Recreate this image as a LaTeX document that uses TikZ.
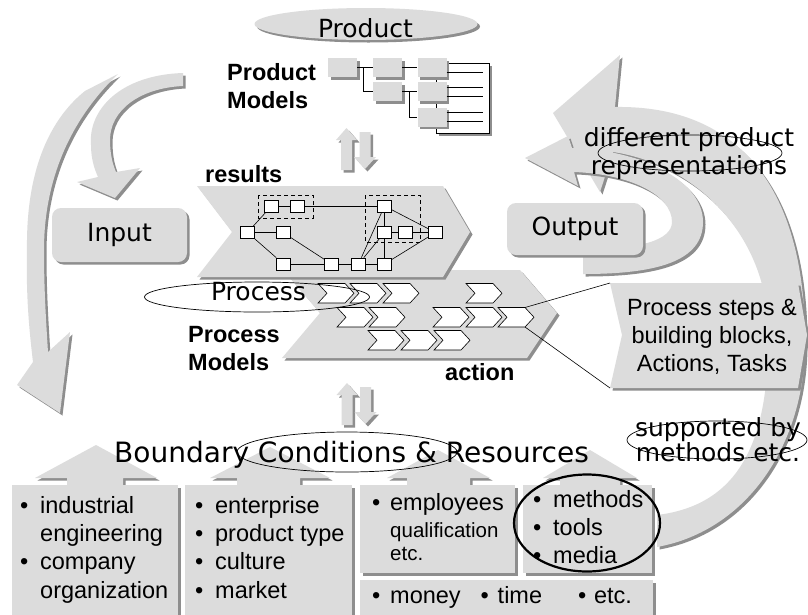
\documentclass[tikz,border=0pt]{standalone}
\usepackage{fontspec}
\setmainfont{Liberation Sans}
\newfontfamily\verd{DejaVu Sans}
\usetikzlibrary{shapes.geometric,shadows}
\definecolor{panel}{HTML}{DCDCDC}
\definecolor{shadowgray}{HTML}{8E8E8E}
% small white chevron step, top-left corner at (#1,#2)
\newcommand\chevat[2]{\path[chev] (#1,#2) -- ++(27,0) -- ++(9,9.75) -- ++(-9,9.75) -- ++(-27,0) -- ++(9,-9.75) -- cycle;}
% pair of opposed exchange arrows, up-arrow tip at (#1,#2)
\newcommand\exchangeat[2]{%
  \path[panelshape] (#1,#2) -- ++(10.5,12) -- ++(-5,0) -- ++(0,30) -- ++(-11,0) -- ++(0,-30) -- ++(-5,0) -- cycle;
  \path[panelshape] (#1,#2) ++(18.5,41) -- ++(11,-12) -- ++(-5.5,0) -- ++(0,-25) -- ++(-11,0) -- ++(0,25) -- ++(-5.5,0) -- cycle;}
\begin{document}
\begin{tikzpicture}[x=1pt,y=-1pt,
  sh/.style={drop shadow={shadow xshift=2.5pt,shadow yshift=-2.5pt,fill=shadowgray,opacity=1}},
  panelshape/.style={fill=panel,draw=none,sh},
  vlabel/.style={font=\verd\fontsize{25}{28}\selectfont,inner sep=0pt},
  blabel/.style={font=\bfseries\fontsize{23.5}{28}\selectfont,inner sep=0pt},
  alabel/.style={font=\fontsize{23.5}{28.3}\selectfont,inner sep=0pt},
  netbox/.style={draw,fill=white,minimum width=14pt,minimum height=12pt,inner sep=0pt,line width=0.7pt},
  treebox/.style={fill=panel,minimum width=29pt,minimum height=19pt,inner sep=0pt,sh},
  chev/.style={draw,fill=white,line width=0.6pt},
  thinline/.style={line width=0.6pt},
  ring/.style={draw,ellipse,inner sep=0pt,line width=0.7pt},
  rbox/.style={panelshape,rounded corners=9pt,inner sep=0pt,font=\verd\fontsize{25}{28}\selectfont},
]
\path[use as bounding box,fill=white] (0,0) rectangle (808,614);

% ---- big curved arrows (left) ----
\path[panelshape] (85,91) -- (118,74)
  .. controls (70,120) and (44,180) .. (44,250)
  .. controls (44,290) and (46,320) .. (48,352)
  -- (70,332) -- (60,413) -- (17,385) -- (33,362)
  .. controls (28,320) and (26,290) .. (27,240)
  .. controls (28,160) and (55,115) .. (85,91) -- cycle;
\path[panelshape] (183,73) -- (183,86)
  .. controls (140,88) and (110,110) .. (110,140)
  .. controls (110,155) and (113,165) .. (116,172)
  -- (140,168) -- (115,198) -- (77,182) -- (98,177)
  .. controls (95,170) and (91,160) .. (91,145)
  .. controls (88,110) and (120,75) .. (183,73) -- cycle;

% ---- big curved arrows (right) ----
\path[panelshape] (615,107) -- (620,55) -- (553,113) -- (600,192) -- (613,152)
  .. controls (700,165) and (768,240) .. (768,330)
  .. controls (770,440) and (740,505) .. (657,515)
  -- (657,547)
  .. controls (750,530) and (806,440) .. (805,340)
  .. controls (805,190) and (740,105) .. (615,107) -- cycle;
\path[panelshape] (525,158) -- (568,136) -- (572,148)
  .. controls (640,150) and (703,180) .. (703,222)
  .. controls (703,262) and (655,274) .. (583,274)
  -- (583,248)
  .. controls (640,250) and (672,240) .. (672,222)
  .. controls (672,195) and (630,174) .. (574,172)
  -- (578,186) -- cycle;

% ---- product ----
\node[panelshape,ellipse,minimum width=223pt,minimum height=32pt,inner sep=0pt] (prod) at (366,24) {};
\node[vlabel,anchor=base] (prodlabel) at (365.5,37) {Product};
\node[blabel,anchor=north west,align=left] (pmod) at (227,60.4) {\strut Product\\Models};

% product structure tree
\draw[thinline,fill=white,sh] (436,63) rectangle (489,133);
\node[treebox] (p1) at (342.5,67.5) {};
\node[treebox] (p2) at (387.5,67.5) {};
\node[treebox] (p3) at (432,67.5) {};
\node[treebox] (p4) at (387.5,91.5) {};
\node[treebox] (p5) at (432,91.5) {};
\node[treebox] (p6) at (432,117) {};
\draw[thinline] (p1.east) -- (p2.west);
\draw[thinline] (p2.east) -- (p3.west);
\draw[thinline] ([xshift=6pt]p1.east) |- (p4.west);
\draw[thinline] (p4.east) -- (p5.west);
\draw[thinline] ([xshift=7pt]p4.east) |- (p6.west);
\draw[thinline] ([yshift=-4.5pt]p3.east) -- ++(36,0);
\foreach \b in {p5,p6} {
  \draw[thinline] ([yshift=4.5pt]\b.east) -- ++(36,0);
  \draw[thinline] ([yshift=-4.5pt]\b.east) -- ++(36,0);
}

% exchange arrows
\exchangeat{346.5}{128}
\exchangeat{347}{383}

% ---- input / output ----
\node[rbox,minimum width=135pt,minimum height=54pt] (inputbox) at (119.5,235) {Input};
\node[rbox,minimum width=136pt,minimum height=52pt] (outputbox) at (575,229) {Output};

% ---- process models and results ----
\path[panelshape] (283,270) -- (520,270) -- (557,313) -- (527,358) -- (282,358) -- (320,313) -- cycle;
\path[panelshape] (197,186) -- (443,186) -- (470,232) -- (443,277) -- (197,277) -- (232,232) -- cycle;
\node[blabel,anchor=base west] (results) at (205,182) {results};

% result network
\draw[line width=1pt,dash pattern=on 4pt off 3pt] (258,195) rectangle (313,218);
\draw[line width=1pt,dash pattern=on 4pt off 3pt] (365,195) rectangle (420,242);
\node[netbox] (b1) at (271.5,206) {};
\node[netbox] (b2) at (297,206) {};
\node[netbox] (b3) at (384.5,206) {};
\node[netbox] (b4) at (384.5,232.5) {};
\node[netbox] (b5) at (405,232.5) {};
\node[netbox] (b6) at (435.5,232.5) {};
\node[netbox] (b7) at (247.5,232.5) {};
\node[netbox] (b8) at (283,232.5) {};
\node[netbox] (b9) at (283.5,264) {};
\node[netbox] (b10) at (331.5,264) {};
\node[netbox] (b11) at (358.5,264) {};
\node[netbox] (b12) at (384.5,264) {};
\foreach \u/\v in {b7/b1,b7/b8,b7/b9,b1/b2,b2/b3,b8/b10,b9/b10,b10/b11,b11/b12,
                   b3/b4,b4/b12,b4/b5,b5/b6,b3/b6,b12/b6,b11/b3,b11/b4}
  \draw[thinline] (\u) -- (\v);

% process steps
\chevat{318}{283.5}\chevat{350}{283.5}\chevat{383}{283.5}\chevat{466}{283.5}
\chevat{337}{307.5}\chevat{369}{307.5}\chevat{433}{307.5}\chevat{466}{307.5}\chevat{498}{307.5}
\chevat{368}{330.5}\chevat{401}{330.5}\chevat{434}{330.5}
\coordinate (chevtop) at (525,307.5);
\coordinate (chevbot) at (525,327);

\node[ring,minimum width=225pt,minimum height=30pt] (procring) at (257,297) {};
\node[vlabel,anchor=base] (proclabel) at (258.5,300) {Process};
\node[blabel,anchor=north west,align=left] (prmod) at (188,322.4) {\strut Process\\Models};
\node[blabel,anchor=base west] (action) at (445,380) {action};

% building blocks callout
\path[panelshape] (610,283) -- (798,283) -- (807,335) -- (798,388) -- (610,388) -- (622,335) -- cycle;
\coordinate (stepstl) at (610,283);
\coordinate (stepsbl) at (610,388);
\draw[thinline] (chevtop) -- (stepstl);
\draw[thinline] (chevbot) -- (stepsbl);
\node[alabel,align=center] (steps) at (712,337) {Process steps \&\\building blocks,\\Actions, Tasks};

% annotations on the right
\node[vlabel,align=center] (diff) at (689,154) {different product\\representations};
\node[ring,minimum width=184pt,minimum height=36pt] (diffring) at (690,153) {};
\node[vlabel,font=\verd\fontsize{25}{25}\selectfont,align=center] (supp) at (718,440) {supported by\\methods etc.};
\node[ring,minimum width=180pt,minimum height=38pt] (suppring) at (717,440) {};

% ---- boundary conditions & resources ----
\path[panelshape] (35,478) -- (96,445) -- (157,478) -- (123,478) -- (123,487) -- (67,487) -- (67,478) -- cycle;
\path[panelshape] (210,478) -- (270,447) -- (330,478) -- (300,478) -- (300,487) -- (237,487) -- (237,478) -- cycle;
\path[panelshape] (387,478) -- (438,450) -- (490,478) -- (470,478) -- (470,487) -- (407,487) -- (407,478) -- cycle;
\path[panelshape] (543,478) -- (590,450) -- (637,478) -- (620,478) -- (620,487) -- (560,487) -- (560,478) -- cycle;

\path[panelshape] (12,485) rectangle (178,620);
\path[panelshape] (185,485) rectangle (352,620);
\path[panelshape] (360,485) rectangle (515,573);
\path[panelshape] (523,485) rectangle (652,573);
\path[panelshape] (360,580) rectangle (653,620);

\node[vlabel,font=\verd\fontsize{28}{32}\selectfont,anchor=base] (bc) at (351.5,462) {Boundary Conditions \& Resources};
\node[ring,minimum width=220pt,minimum height=40pt] (bcring) at (347,452) {};

\node[alabel,anchor=north west,align=left] (org) at (20,493.2)
  {\strut\makebox[20pt][l]{•}industrial\\\hspace*{20pt}engineering\\\makebox[20pt][l]{•}company\\\hspace*{20pt}organization};
\node[alabel,anchor=north west,align=left] (ent) at (195,493.2)
  {\strut\makebox[20pt][l]{•}enterprise\\\makebox[20pt][l]{•}product type\\\makebox[20pt][l]{•}culture\\\makebox[20pt][l]{•}market};
\node[alabel,anchor=base west] (emp) at (372,510) {\makebox[18pt][l]{•}employees};
\node[alabel,font=\fontsize{20.5}{23.5}\selectfont,anchor=north west,align=left] (qual) at (390,520.5)
  {\strut qualification\\etc.};
\node[alabel,anchor=north west,align=left] (meth) at (533,487.2)
  {\strut\makebox[20pt][l]{•}methods\\\makebox[20pt][l]{•}tools\\\makebox[20pt][l]{•}media};
\node[alabel,anchor=base west] (money) at (372,603)
  {\makebox[18pt][l]{•}money\hspace{20pt}\makebox[17pt][l]{•}time\hspace{36pt}\makebox[16pt][l]{•}etc.};
\node[ring,line width=2.2pt,minimum width=146pt,minimum height=97pt] (methring) at (587,523) {};
\end{tikzpicture}
\end{document}
